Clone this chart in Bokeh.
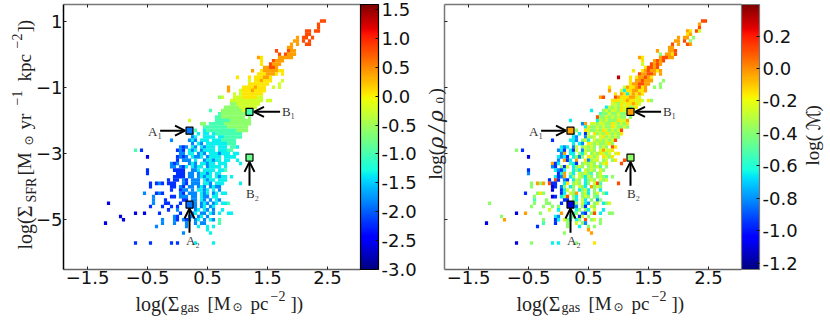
import math
from bokeh.embed import file_html
from bokeh.resources import INLINE
from bokeh.layouts import row
from bokeh.plotting import figure
from bokeh.core.properties import value
from bokeh.models import (AllLabels, Arrow, ColorBar, ColumnDataSource, FixedTicker, LinearAxis,
                          LinearColorMapper, NumeralTickFormatter, OpenHead, Range1d)

# --- binned data -----------------------------------------------------------
GAS_FIRST, GAS_STEP = -1.25, 0.05     # log gas surface density of bin column 0
SFR_FIRST, SFR_STEP = 1.0, -0.1       # log SFR surface density of bin row 0

LEFT_LEVELS = {"a": -2.6, "b": -2.2, "c": -1.8, "d": -1.35, "e": -1.0, "f": -0.6,
               "g": -0.25, "h": 0.05, "i": 0.4, "j": 0.8, "k": 1.2}
RIGHT_LEVELS = {"a": -1.10, "b": -0.96, "c": -0.815, "d": -0.65, "e": -0.525, "f": -0.39,
                "g": -0.26, "h": -0.15, "i": -0.03, "j": 0.12, "k": 0.31}

# (row, first column, one level letter per bin, blank for an empty bin)
LEFT_CELLS = [
 (0,73,"jj"),(1,72,"j"),(2,72,"j"),(3,68,"jj jj"),(4,68,"jj"),(5,65,"i jj j"),(6,64,"ii j j"),
 (7,63,"i i  jj"),(8,62,"ii"),(9,58,"j   jii"),(10,59,"j jiii"),(11,52,"ih     iiiii"),
 (12,53,"h   jiii"),(13,53,"h  jiii"),(14,54,"iijji"),(15,50,"i  hiiiiihh"),(16,52,"hhhiiih h"),
 (17,45,"h   h hhhiih"),(18,49,"g hhihhh   g"),(19,49,"hhhhhhh   g"),(20,42,"i    hhhhihhh  g g"),
 (21,42,"i   ghhhihhhh"),(22,44,"g ghhhhhhh"),(23,39,"fg   ggghhhhhgg"),(24,43,"ggggggggggg gg"),
 (25,43,"ffgggggggg"),(26,41,"fffffgggggg"),(27,36,"e   fffffffgggf"),(28,39,"effffffffff"),
 (29,38,"eeffffffff f"),(30,29,"g        eeeeefffffff"),(31,33,"ff eeeeefffffffff"),
 (32,34,"eeeeeeeefffffff"),(33,31,"e  deeeeeeeeeeffff"),(34,30,"d d dd deeeeeeeee"),
 (35,30,"cd  dddd ddeeeeee"),(36,23,"c     cdc ddd dddeeeee"),(37,30,"c dc dddddddeee"),
 (38,26,"cbc dc dcddd ddd eed"),(39,11,"e b"),(39,25,"bcb dcd cdddd dddee"),
 (40,26,"cc dd cdc dddcddd dd"),(41,15,"a"),(41,25,"bcbc dccd cdddd dddd"),
 (42,25,"b ccc d  cddcdd dd  d"),(43,23,"cbc   cdc ddcdd ddd    d"),(44,23,"cc cbd dcdd cdddd d"),
 (45,15,"b"),(45,24,"bbbb  ccd dddd dde"),(46,15,"b"),(46,25,"bbb cc cddcd dd"),
 (47,24,"bbbb cc cdcdd dcdd d"),(48,22,"b bb cb ccc dcdd ddd"),
 (49,16,"b bcb bbb  cb ccc ddc ddd     d"),(50,16,"b"),(50,23,"bb cb cc cdc cdcc"),
 (51,23,"b  bcc c ddcd d c"),(52,14,"c   bcb"),(52,26,"cb ccc dcd cd dd"),
 (53,17,"c     bb ccc cc dcc dd"),(54,17,"c   b     bb cc dc c dc"),(55,2,"a"),
 (55,17,"c   bb   b   cc cdc cd dde"),(56,16,"b   b  b b    cc cd cd"),(57,22,"b  c     cd dc c  d"),
 (58,11,"a  a    b"),(58,26,"b   cd cc dc d  dd"),(59,6,"a"),(60,7,"a"),(59,24,"cb   cc cd c"),
 (60,20,"c   cb cbc cd c dc e"),(61,1,"a"),(61,20,"c   c   c  c cc    e"),
 (62,18,"c         c   d  d d"),(63,35,"d"),(64,27,"c        d"),
 (67,11,"b    b      b b     d     d"),
]

RIGHT_CELLS = [
 (0,73,"jj"),(1,72,"i"),(2,72,"j"),(3,68,"ih jg"),(4,68,"hi"),(5,65,"i ii f"),(6,64,"ii j f"),
 (7,63,"j i  ji"),(8,62,"ii"),(9,58,"i   iij"),(10,59,"f iihj"),(11,52,"ih     ijjii"),
 (12,53,"h   ijij"),(13,53,"g  jiji"),(14,54,"hjjij"),(15,50,"h  hijiihi"),(16,52,"jiijji i"),
 (17,45,"k   h hiijih"),(18,49,"h iijiii   f"),(19,49,"hiijjii   f"),(20,42,"h    gihhijhi  f f"),
 (21,42,"i   gdhhiihhi"),(22,44,"h ihdhihih"),(23,39,"ij   jihhhiihg"),(24,43,"hhhghihhghg hf"),
 (25,43,"ggfhghhihg"),(26,41,"dgfgfhghfgh"),(27,36,"d   fgfggfhgfgf"),(28,39,"effgffgffgg"),
 (29,38,"jffgfgfgff f"),(30,29,"d        dgfgfffhggi"),(31,33,"ci ggfggffhgfgfh"),
 (32,34,"dhffgfgffhgffgf"),(33,31,"f  hgffgfhgfgfgj"),(34,30,"d d bg hfgfhgfgfh"),
 (35,30,"dc  cgfg ghfgfgf"),(36,23,"b     ddc fgd gfgfgfgj"),(37,30,"d dc hgfgffghf"),
 (38,26,"dcd cg fgfgf fgf jh"),(39,11,"f b"),(39,25,"cdb dbg cgfgf giggh"),
 (40,26,"ci dd fdg fgfhgfg gh"),(41,15,"a"),(41,25,"dcdb dfcf hgfg hgfh"),
 (42,25,"c ibd i  hcfgg fg fh  j"),(43,23,"ibd   edb fgfgf fgh    j"),(44,23,"cb fbg dfgf fgfge f"),
 (45,15,"b"),(45,24,"dcbd  dfd gfgf gf"),(46,15,"c"),(46,25,"bdi fd gfgfe fg"),
 (47,24,"dbci df gfdgf fgfe f"),(48,22,"b jb cb dgf dfgf gfg"),
 (49,16,"f ifi jbb  dh fgf df gje     j"),(50,16,"f"),(50,23,"ab cf df gfd ifgf"),
 (51,23,"a  bdg f dfgd f d"),(52,14,"b   fhf"),(52,26,"bd gfi fgd fg fd"),
 (53,17,"f     ab dfj fd fgf fe"),(54,17,"e   f     bb fd gd f cf"),(55,2,"f"),
 (55,17,"f   ff   b   df gdc fg dfg"),(56,16,"f   f  f f    dc fb gf"),(57,22,"g  d     df fd g  d"),
 (58,11,"a  i    f"),(58,26,"i   df cb fj d  ff"),(59,6,"f"),(60,7,"i"),(59,24,"dc   df bg f"),
 (60,20,"f   bd gfd df j fg f"),(61,1,"a"),(61,20,"e   b   f  g fc    f"),
 (62,18,"b         f   d  f f"),(63,35,"i"),(64,27,"f        i"),
 (67,11,"a    f      d d     f     h"),
]

POINT_GAS = [0.2, 0.2, 1.2, 1.2]
POINT_SFR = [-2.31, -4.54, -1.74, -3.12]
POINT_LEFT = [-1.9, -1.9, -1.0, -0.8]
POINT_RIGHT = [-0.03, -1.1, -0.02, -0.38]
POINT_NAMES = ["A\u2081", "A\u2082", "B\u2081", "B\u2082"]
NAME_GAS = [-0.49, 0.14, 1.74, 1.14]
NAME_SFR = [-2.34, -5.63, -1.74, -4.21]

X_TICKS = [-1.5, -0.5, 0.5, 1.5, 2.5]
Y_TICKS = [1, -1, -3, -5]
LEFT_BAR_TICKS = [1.5, 1.0, 0.5, 0.0, -0.5, -1.0, -1.5, -2.0, -2.5, -3.0]
RIGHT_BAR_TICKS = [0.2, 0.0, -0.2, -0.4, -0.6, -0.8, -1.0, -1.2]

# --- helpers ---------------------------------------------------------------
def jet_palette():
    def ramp(points, t):
        for (a, va), (b, vb) in zip(points, points[1:]):
            if t <= b:
                return va + (vb - va) * (t - a) / (b - a)
        return points[-1][1]
    r = [(0, 0), (.35, 0), (.66, 1), (.89, 1), (1, .5)]
    g = [(0, 0), (.125, 0), (.375, 1), (.64, 1), (.91, 0), (1, 0)]
    b = [(0, .5), (.11, 1), (.34, 1), (.65, 0), (1, 0)]
    out = []
    for i in range(256):
        t = i / 255
        out.append("#%02x%02x%02x" % tuple(int(round(255 * ramp(c, t))) for c in (r, g, b)))
    return out

JET = jet_palette()
FRAME_W, FRAME_H, FRAME_TOP = 297, 265, 4
X0, X1, Y0, Y1 = -1.9, 3.05, -6.5, 1.5
SERIF = "Liberation Serif"

def decode(cells, levels):
    xs, ys, vs = [], [], []
    for r, c, text in cells:
        for i, ch in enumerate(text):
            if ch != " ":
                xs.append(GAS_FIRST + GAS_STEP * (c + i))
                ys.append(SFR_FIRST + SFR_STEP * r)
                vs.append(levels[ch])
    return dict(x=xs, y=ys, v=vs)

def panel(cells, levels, low, high, point_values, bar_ticks, left_border, right_border, spine, show_y):
    p = figure(output_backend="svg", toolbar_location=None,
               x_range=Range1d(X0, X1), y_range=Range1d(Y0, Y1),
               frame_width=FRAME_W, frame_height=FRAME_H,
               min_border_left=left_border, min_border_top=FRAME_TOP, min_border_bottom=51,
               min_border_right=right_border,
               outline_line_color=None, background_fill_color="white", border_fill_color=None)
    p.grid.visible = False
    mapper = LinearColorMapper(palette=JET, low=low, high=high)
    p.rect("x", "y", width=GAS_STEP * 1.06, height=-SFR_STEP * 1.06,
           source=ColumnDataSource(decode(cells, levels)),
           fill_color={"field": "v", "transform": mapper}, line_color=None)
    arrows = [(-0.29, -2.31, 0.125, -2.31), (0.2, -5.39, 0.2, -4.66),
              (1.71, -1.74, 1.275, -1.74), (1.2, -3.97, 1.2, -3.25)]
    for xs, ys, xe, ye in arrows:
        p.add_layout(Arrow(x_start=xs, y_start=ys, x_end=xe, y_end=ye, line_width=2, line_color="black",
                           end=OpenHead(size=10, line_width=2, line_color="black")))
    p.scatter(POINT_GAS, POINT_SFR, marker="square", size=7, line_color="black", line_width=1.2,
              fill_color=[JET[int(255 * (v - low) / (high - low))] for v in point_values])
    p.text(NAME_GAS, NAME_SFR, text=POINT_NAMES, text_font=value(SERIF), text_font_size="13px",
           text_color="#333333", text_baseline="middle", text_align="left")

    ax = p.xaxis[0]
    ax.ticker = FixedTicker(ticks=X_TICKS)
    ax.major_label_overrides = {t: f"{t}".replace("-", "\u2212") for t in X_TICKS}
    ay = p.yaxis[0]
    ay.ticker = FixedTicker(ticks=Y_TICKS)
    ay.major_label_overrides = {t: (f"{t}".replace("-", "\u2212") if show_y else "") for t in Y_TICKS}
    for a, col in ((ax, "#666666"), (ay, spine)):
        a.axis_line_color = col
        a.axis_line_width = 1.5
        a.major_tick_in = 3
        a.major_tick_out = 0
        a.major_tick_line_color = "#222222"
        a.minor_tick_line_color = None
        a.major_label_text_font = "DejaVu Sans"
        a.major_label_text_font_size = "18px"
        a.major_label_text_color = "#111111"
        a.major_label_standoff = 1
    ay.major_label_orientation = "horizontal"
    if not show_y:
        ay.major_label_text_font_size = "0px"
        ay.major_label_standoff = 0
    top = LinearAxis(ticker=FixedTicker(ticks=X_TICKS), major_label_text_font_size="0px",
                     major_label_overrides={t: "" for t in X_TICKS}, major_label_standoff=0,
                     axis_line_color="#777777", axis_line_width=1.5, major_tick_in=3, major_tick_out=0,
                     major_tick_line_color="#222222", minor_tick_line_color=None)
    p.add_layout(top, "above")
    bar = ColorBar(color_mapper=mapper, width=18, padding=0, margin=0, ticker=FixedTicker(ticks=bar_ticks),
                   formatter=NumeralTickFormatter(format="0.0"), major_label_text_font="DejaVu Sans",
                   major_label_text_font_size="18px", major_label_text_color="#111111", label_standoff=3,
                   major_label_policy=AllLabels(),
                   major_tick_in=3, major_tick_line_color="#111111", minor_tick_line_color=None,
                   bar_line_color=spine, bar_line_width=1.2, border_line_color=None,
                   background_fill_color=None)
    p.add_layout(bar, "right")
    return p

# --- figures ---------------------------------------------------------------
p1 = panel(LEFT_CELLS, LEFT_LEVELS, -3.0, 1.586, POINT_LEFT, LEFT_BAR_TICKS, 63, 77, "#000000", True)
p2 = panel(RIGHT_CELLS, RIGHT_LEVELS, -1.24, 0.395, POINT_RIGHT, RIGHT_BAR_TICKS, 7, 89, "#777777", False)

# transparent full-page layer that carries the axis titles, whose pieces sit outside the frames
layer = figure(output_backend="svg", toolbar_location=None,
               frame_width=830, frame_height=320,
               x_range=Range1d(0, 830), y_range=Range1d(320, 0), x_axis_type=None, y_axis_type=None,
               min_border_left=0, min_border_right=0, min_border_top=0, min_border_bottom=0,
               outline_line_color=None, background_fill_color=None, border_fill_color=None,
               margin=(0, 0, 0, -830))
layer.grid.visible = False
LAYER_DROP = 7   # the layer is laid out this much lower than the panels

def put(px, py, text, size, angle=0.0, font=SERIF, style="normal", color="#222222"):
    layer.text([px], [py - LAYER_DROP], text=[text], angle=angle, text_font=value(font), text_font_size=f"{size}px",
               text_font_style=style, text_color=color, text_baseline="alphabetic", text_align="left")

for shift in (0, 381):
    base = 306
    put(135 + shift, base, "log(\u03a3", 20)
    put(180 + shift, base + 4, "gas", 14)
    put(207 + shift, base, "[M", 19)
    put(232 + shift, base + 3, "\u2299", 12, font="DejaVu Sans")
    put(250 + shift, base, "pc", 19)
    put(270 + shift, base - 8, "\u22122", 14)
    put(290 + shift, base, "])", 19)

up = math.pi / 2
for yy, text, size, bx in [(252, "log(\u03a3", 20, 24), (205, "SFR", 14, 31), (178, "[M", 19, 24),
                           (132, "yr", 19, 24), (108, "\u22121", 14, 16), (84, "kpc", 19, 24),
                           (51, "\u22122", 14, 16), (35, "])", 19, 24)]:
    put(bx, yy, text, size, angle=up)
put(28, 148, "\u2299", 12, angle=up, font="DejaVu Sans")

put(435, 182, "log(", 19, angle=up)
put(435, 151, "\u03c1\u2009/\u2009\u03c1", 20, angle=up, font="DejaVu Serif", style="italic")
put(439, 106, "0", 13, angle=up)
put(435, 97, ")", 19, angle=up)

put(812, 168, "log(", 19, angle=up)
put(812, 133, "\u2133", 19, angle=up, font="DejaVu Sans")
put(812, 114, ")", 19, angle=up)

page = row(p1, p2, layer)
open("out.html", "w").write(file_html(page, INLINE))
